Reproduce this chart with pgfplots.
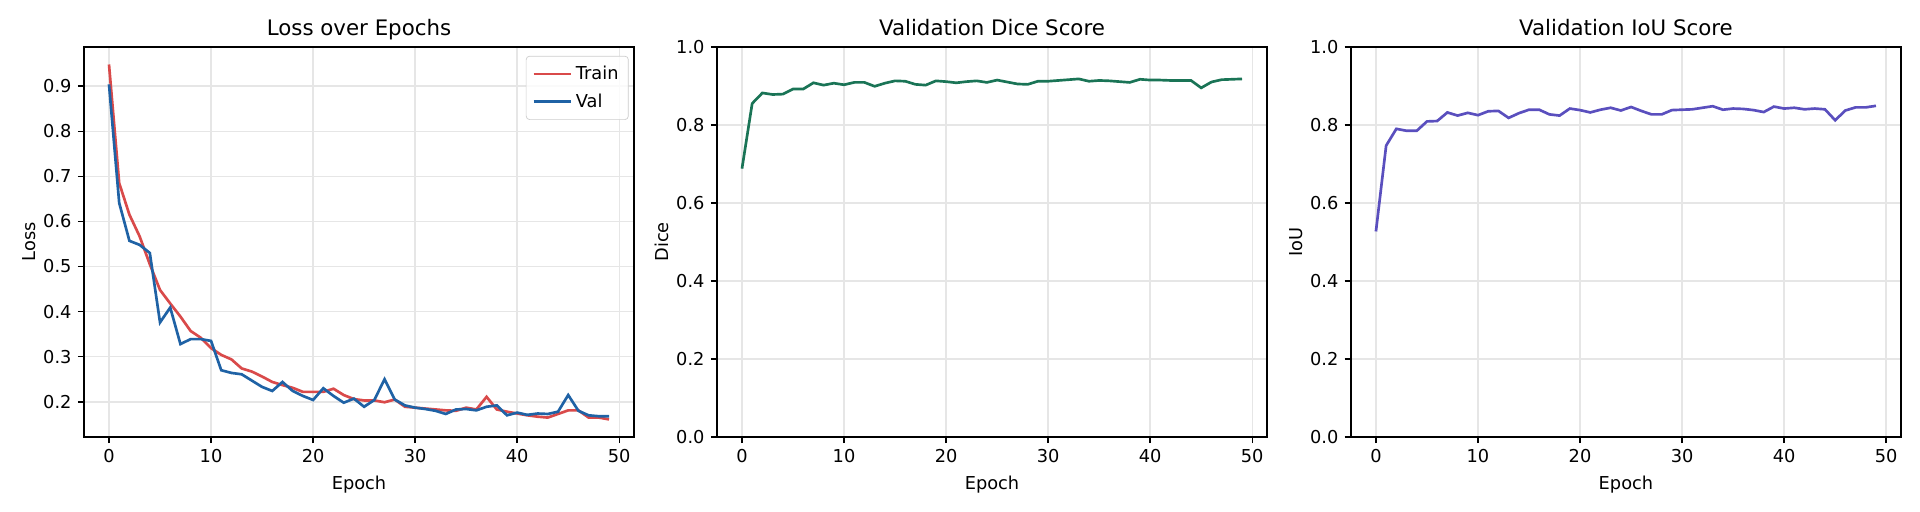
\documentclass[border=0pt]{standalone}
\usepackage{pgfplots}
\pgfplotsset{compat=1.18}
\usepackage{fontspec}
\setmainfont{DejaVu Sans}
\definecolor{trainc}{HTML}{D94A4A}
\definecolor{valc}{HTML}{1F62A5}
\definecolor{dicec}{HTML}{1A7456}
\definecolor{iouc}{HTML}{5A4FBE}
\definecolor{gridc}{HTML}{E6E6E6}
\definecolor{legc}{HTML}{CCCCCC}

\pgfplotstableread{
e train val dice iou
0 0.948 0.904 0.688 0.527
1 0.685 0.641 0.855 0.747
2 0.615 0.557 0.882 0.790
3 0.567 0.548 0.878 0.785
4 0.505 0.530 0.879 0.785
5 0.448 0.376 0.892 0.809
6 0.418 0.409 0.892 0.810
7 0.389 0.328 0.908 0.832
8 0.357 0.339 0.902 0.824
9 0.342 0.339 0.907 0.831
10 0.319 0.335 0.903 0.825
11 0.304 0.270 0.909 0.835
12 0.294 0.264 0.909 0.836
13 0.274 0.261 0.899 0.818
14 0.267 0.247 0.907 0.830
15 0.256 0.233 0.913 0.839
16 0.244 0.224 0.912 0.839
17 0.237 0.244 0.904 0.827
18 0.231 0.224 0.902 0.824
19 0.222 0.213 0.913 0.842
20 0.222 0.204 0.911 0.838
21 0.222 0.230 0.908 0.832
22 0.229 0.213 0.911 0.839
23 0.215 0.198 0.913 0.844
24 0.206 0.207 0.909 0.837
25 0.203 0.189 0.915 0.846
26 0.203 0.204 0.910 0.836
27 0.199 0.250 0.905 0.827
28 0.205 0.205 0.904 0.827
29 0.189 0.192 0.912 0.838
30 0.187 0.187 0.912 0.839
31 0.185 0.184 0.914 0.840
32 0.183 0.180 0.916 0.844
33 0.181 0.173 0.918 0.848
34 0.180 0.183 0.912 0.839
35 0.187 0.184 0.914 0.842
36 0.183 0.181 0.913 0.841
37 0.211 0.189 0.911 0.838
38 0.183 0.192 0.909 0.833
39 0.178 0.170 0.917 0.847
40 0.174 0.176 0.915 0.842
41 0.170 0.171 0.915 0.844
42 0.167 0.174 0.914 0.840
43 0.165 0.173 0.914 0.842
44 0.173 0.178 0.914 0.840
45 0.181 0.215 0.895 0.812
46 0.181 0.180 0.910 0.837
47 0.165 0.170 0.916 0.845
48 0.165 0.168 0.917 0.845
49 0.161 0.168 0.918 0.849
}\datatable

\pgfplotsset{
  panel/.style={
    scale only axis, width=309.4pt, height=219.4pt,
    anchor=south west,
    xmin=-2.45, xmax=51.45, xtick={0,10,20,30,40,50},
    tick pos=left, tick align=outside, major tick length=3.5pt,
    tick style={black, line width=0.8pt},
    axis line style={line width=0.8pt},
    grid=major, major grid style={color=gridc, line width=0.8pt},
    ticklabel style={font=\fontsize{10}{12}\selectfont},
    /pgf/number format/assume math mode=true,
    label style={font=\fontsize{10}{12}\selectfont},
    xlabel=Epoch,
    xlabel style={at={(axis description cs:0.5,-0.134)}, anchor=base},
    ylabel style={at={(axis description cs:-0.0875,0.5)}, anchor=base},
    title style={font=\fontsize{12}{14}\selectfont, at={(axis description cs:0.5,1.002)}, anchor=base},
    yticklabel style={/pgf/number format/fixed, /pgf/number format/fixed zerofill, /pgf/number format/precision=1},
  }
}

\begin{document}
\begin{tikzpicture}
\useasboundingbox (0,0) rectangle (1080pt,288pt);

\begin{axis}[panel, at={(47.25pt,42.2pt)},
  title={Loss over Epochs}, ylabel={Loss},
  ymin=0.122, ymax=0.987, ytick={0.2,0.3,0.4,0.5,0.6,0.7,0.8,0.9},
  legend style={at={(axis description cs:1,1)}, anchor=north east, xshift=-3pt, yshift=-5pt,
    draw=legc, rounded corners=2pt, fill=white, fill opacity=0.8, text opacity=1,
    font=\fontsize{10}{12}\selectfont, row sep=2.5pt, inner sep=3.5pt, cells={anchor=west}},
  legend image code/.code={\draw[#1] (0pt,0pt) -- (21pt,0pt);},
]
\addplot[trainc, line width=1.5pt] table[x=e, y=train] {\datatable};
\addlegendentry{Train}
\addplot[valc, line width=1.5pt] table[x=e, y=val] {\datatable};
\addlegendentry{Val}
\end{axis}

\begin{axis}[panel, at={(403.3pt,42.2pt)},
  title={Validation Dice Score}, ylabel={Dice},
  ymin=0, ymax=1, ytick={0,0.2,0.4,0.6,0.8,1.0},
]
\addplot[dicec, line width=1.5pt] table[x=e, y=dice] {\datatable};
\end{axis}

\begin{axis}[panel, at={(759.9pt,42.2pt)},
  title={Validation IoU Score}, ylabel={IoU},
  ymin=0, ymax=1, ytick={0,0.2,0.4,0.6,0.8,1.0},
]
\addplot[iouc, line width=1.5pt] table[x=e, y=iou] {\datatable};
\end{axis}
\end{tikzpicture}
\end{document}
